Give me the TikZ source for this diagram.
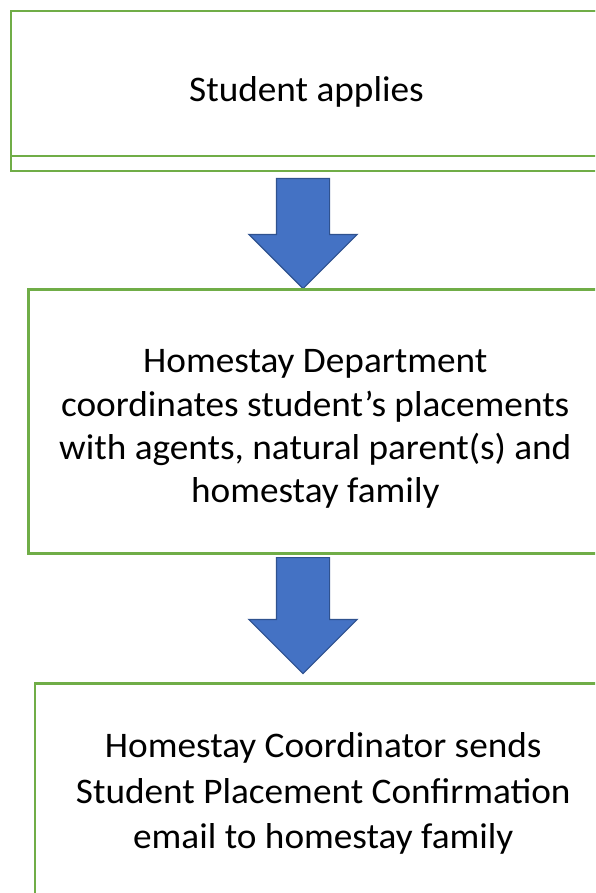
\documentclass[tikz,border=0pt]{standalone}
\usepackage{fontspec}
\setmainfont[FakeStretch=1.035]{Carlito}
\usetikzlibrary{shapes.arrows}
\definecolor{boxgreen}{HTML}{70AD47}
\definecolor{arrowblue}{HTML}{4472C4}
\definecolor{arrowedge}{HTML}{2F528F}
\begin{document}
\begin{tikzpicture}[x=1pt, y=-1pt,
    stepbox/.style={draw=boxgreen, line width=2.5pt, rectangle, anchor=north west, inner sep=0pt},
    steptext/.style={align=center, inner sep=0pt, font=\fontsize{36}{43.3}\selectfont},
    downarrow/.style={single arrow, draw=arrowedge, fill=arrowblue, line width=1.2pt,
      shape border rotate=270, anchor=tail, minimum width=107pt, inner sep=26pt,
      single arrow head extend=27.5pt}]
    \useasboundingbox (0,0) rectangle (595,893);
    \clip (0,0) rectangle (595,893);

    % Paso 1
    \node[stepbox, minimum width=591.5pt, minimum height=160pt] (applyback) at (9.5,10) {};
    \node[stepbox, minimum width=591.5pt, minimum height=145pt] (apply) at (9.5,10) {};
    \node[steptext, yshift=-8.5pt] (applytext) at (apply.center) {Student applies};

    % Flecha 1
    \node[downarrow, minimum height=110pt] (arrowone) at (303,178) {};

    % Paso 2
    \node[stepbox, minimum width=574pt, minimum height=264pt] (coord) at (27,288) {};
    \node[steptext, yshift=-8pt] (coordtext) at (coord.center)
      {Homestay Department\\coordinates student’s placements\\with agents, natural parent(s) and\\homestay family};

    % Flecha 2
    \node[downarrow, minimum height=116pt] (arrowtwo) at (303,557) {};

    % Paso 3
    \node[stepbox, minimum width=577pt, minimum height=214pt] (confirm) at (33.5,682) {};
    \node[steptext, font=\fontsize{36}{45.4}\selectfont, yshift=-3.5pt] (confirmtext) at (confirm.center)
      {Homestay Coordinator sends\\Student Placement Confirmation\\email to homestay family};
\end{tikzpicture}
\end{document}
